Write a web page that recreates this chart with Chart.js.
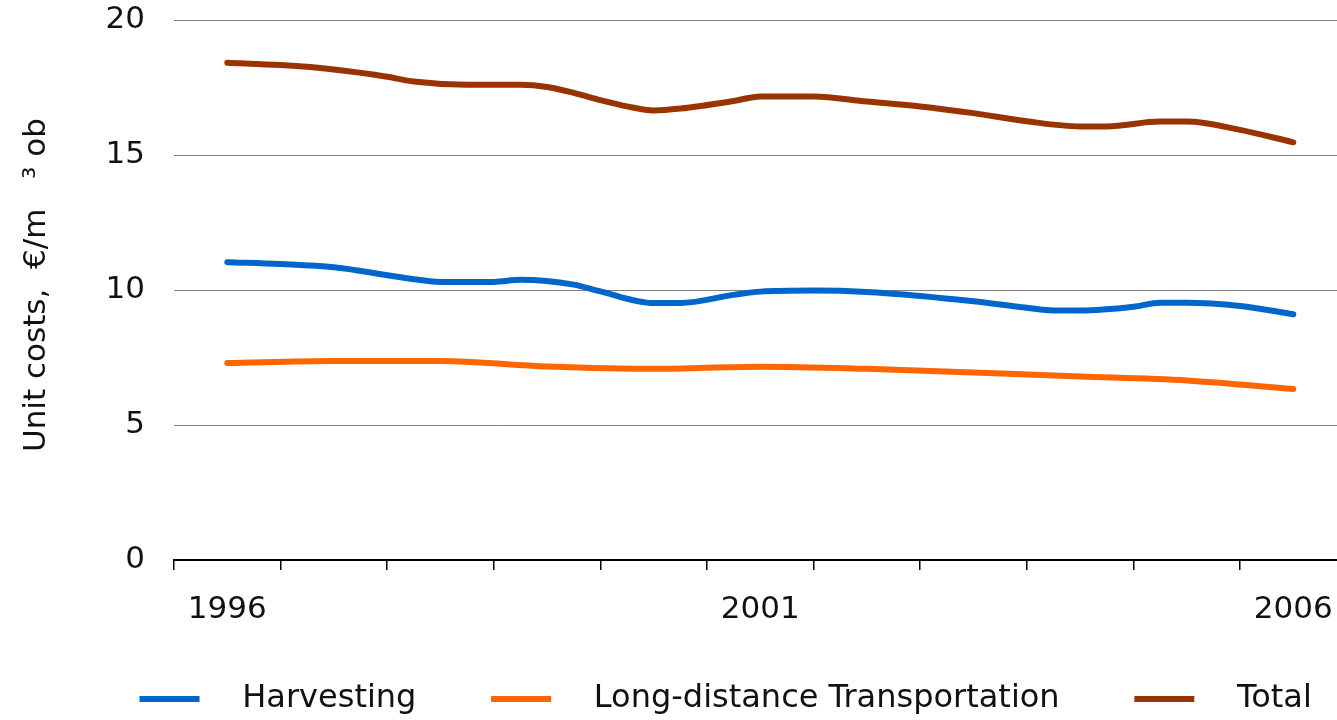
<!DOCTYPE html>
<html>
<head>
<meta charset="utf-8">
<script src="https://cdn.jsdelivr.net/npm/chart.js@4/dist/chart.umd.min.js"></script>
<style>
html,body{margin:0;padding:0;overflow:hidden;background:#fff;width:1337px;height:720px}
canvas{display:block}
</style>
</head>
<body>
<canvas id="c" width="1492" height="725"></canvas>
<script>
// ---- data ----
const years = [1996, 1997, 1998, 1999, 2000, 2001, 2002, 2003, 2004, 2005, 2006];
const labeledYears = [1996, 2001, 2006];

const harvestingT = [1996, 1996.5, 1997, 1997.75, 1998, 1998.5, 1998.75, 1999.25, 1999.5, 2000, 2000.25, 2000.75, 2001, 2001.5, 2002, 2002.5, 2003, 2003.5, 2003.75, 2004, 2004.5, 2004.75, 2005, 2005.5, 2006];
const harvestingV = [11.03, 10.96, 10.84, 10.4, 10.3, 10.3, 10.38, 10.2, 9.95, 9.52, 9.52, 9.82, 9.94, 9.98, 9.93, 9.78, 9.58, 9.34, 9.24, 9.24, 9.38, 9.53, 9.53, 9.41, 9.1];

const transportT = [1996, 1997, 1998, 1999, 2000, 2001, 2002, 2003, 2004, 2005, 2006];
const transportV = [7.3, 7.37, 7.37, 7.17, 7.08, 7.16, 7.08, 6.94, 6.8, 6.65, 6.33];

const totalT = [1996, 1996.5, 1997, 1997.5, 1997.75, 1998.25, 1998.75, 1999, 1999.25, 1999.5, 1999.75, 2000, 2000.25, 2000.75, 2001, 2001.5, 2002, 2002.5, 2003, 2003.5, 2004, 2004.25, 2004.75, 2005, 2005.5, 2006];
const totalV = [18.42, 18.33, 18.17, 17.9, 17.72, 17.6, 17.6, 17.52, 17.3, 17.03, 16.8, 16.65, 16.72, 17.0, 17.17, 17.17, 16.98, 16.8, 16.55, 16.25, 16.06, 16.06, 16.24, 16.24, 15.93, 15.47];

const seriesNames = ['Harvesting', 'Long-distance Transportation', 'Total'];
const yTitle = ' Unit costs,  \u20AC/m   \u00B3 ob';

const toPoints = (t, v) => t.map((x, i) => ({x: x, y: v[i]}));
const legendText = name => '  \u2009' + name + '    ';

Chart.defaults.font.family = "'DejaVu Sans', Verdana, sans-serif";
Chart.defaults.font.size = 31;
Chart.defaults.color = '#111111';

const common = {pointRadius: 0, borderWidth: 6, borderCapStyle: 'round', borderJoinStyle: 'round', cubicInterpolationMode: 'monotone', fill: false};

new Chart(document.getElementById('c'), {
  type: 'line',
  data: {
    datasets: [
      Object.assign({label: legendText(seriesNames[0]), data: toPoints(harvestingT, harvestingV), borderColor: '#0066cc', backgroundColor: '#0066cc'}, common),
      Object.assign({label: legendText(seriesNames[1]), data: toPoints(transportT, transportV), borderColor: '#ff6600', backgroundColor: '#ff6600'}, common),
      Object.assign({label: legendText(seriesNames[2]), data: toPoints(totalT, totalV), borderColor: '#993300', backgroundColor: '#993300'}, common)
    ]
  },
  options: {
    responsive: false,
    animation: false,
    devicePixelRatio: 1,
    layout: {padding: {top: 20, left: 0, right: 0, bottom: 0}},
    plugins: {
      legend: {
        position: 'bottom',
        labels: {usePointStyle: true, pointStyle: 'line', pointStyleWidth: 60, padding: 34, font: {size: 32}, color: '#111111'}
      },
      tooltip: {enabled: false}
    },
    scales: {
      x: {
        type: 'linear',
        min: 1995.5,
        max: 2007.864,
        afterBuildTicks: s => { s.ticks = years.map(y => ({value: y - 0.5})); },
        afterFit: s => { s.height = 89; s.paddingLeft = 0; s.paddingRight = 0; },
        ticks: {
          labelOffset: 53.3,
          padding: 21,
          maxRotation: 0,
          autoSkip: false,
          callback: v => labeledYears.includes(Math.round(v + 0.5)) ? String(Math.round(v + 0.5)) : ''
        },
        grid: {drawOnChartArea: false, drawTicks: true, tickLength: 10, color: '#000000', lineWidth: 1.5},
        border: {display: true, color: '#000000', width: 2}
      },
      y: {
        min: 0,
        max: 20,
        afterFit: s => { s.width = 174; s.paddingTop = 0; s.paddingBottom = 0; },
        ticks: {stepSize: 5, padding: 29},
        grid: {drawTicks: false, color: '#7f7f7f', lineWidth: 1},
        border: {display: false},
        title: {display: true, text: yTitle, padding: {top: 18, bottom: 0}, font: {size: 31}}
      }
    }
  }
});
</script>
</body>
</html>
